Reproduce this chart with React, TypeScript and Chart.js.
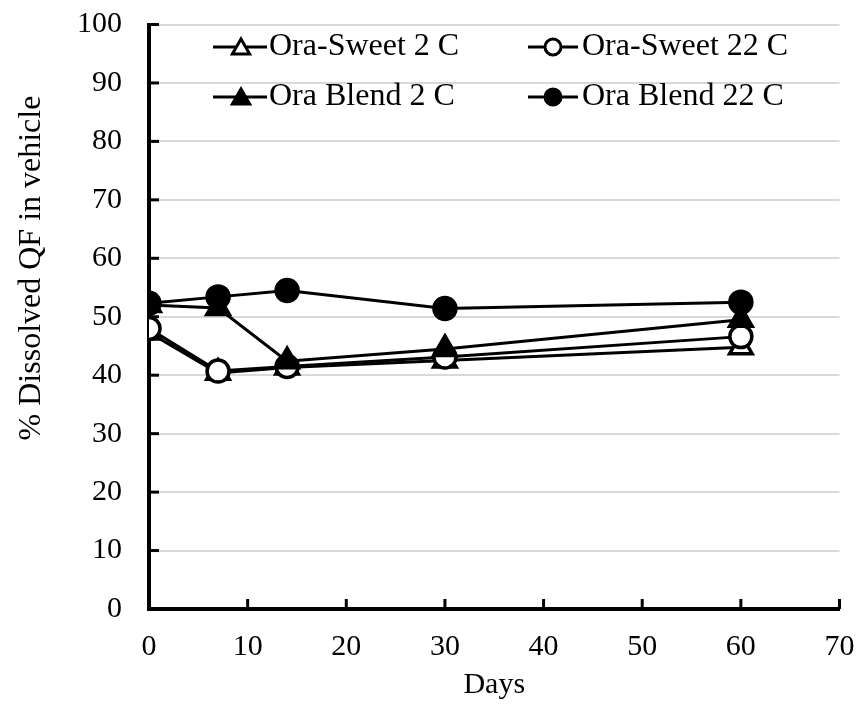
import React, { useEffect, useRef } from "react";
import { Chart, registerables } from "chart.js";

Chart.register(...registerables);

// ---- data ----
const days = [0, 7, 14, 30, 60];
const oraSweet2C = [47.3, 40.4, 41.3, 42.5, 44.8];
const oraSweet22C = [48.0, 40.7, 41.5, 43.1, 46.6];
const oraBlend2C = [52.0, 51.5, 42.4, 44.5, 49.5];
const oraBlend22C = [52.3, 53.4, 54.5, 51.4, 52.5];
const seriesNames = ["Ora-Sweet 2 C", "Ora-Sweet 22 C", "Ora Blend 2 C", "Ora Blend 22 C"];
const xTickValues = [0, 10, 20, 30, 40, 50, 60, 70];
const yTickValues = [0, 10, 20, 30, 40, 50, 60, 70, 80, 90, 100];
const xTitle = "Days";
const yTitle = "% Dissolved QF in vehicle";

const FONT = "'Liberation Serif', 'Times New Roman', serif";

function drawMarker(ctx: CanvasRenderingContext2D, style: string, x: number, y: number, r: number, fill: string) {
  ctx.beginPath();
  if (style === "triangle") {
    let rad = 0;
    ctx.moveTo(x + Math.sin(rad) * r, y - Math.cos(rad) * r);
    rad += (2 * Math.PI) / 3;
    ctx.lineTo(x + Math.sin(rad) * r, y - Math.cos(rad) * r);
    rad += (2 * Math.PI) / 3;
    ctx.lineTo(x + Math.sin(rad) * r, y - Math.cos(rad) * r);
    ctx.closePath();
  } else {
    ctx.arc(x, y, r, 0, Math.PI * 2);
  }
  ctx.fillStyle = fill;
  ctx.fill();
  ctx.lineWidth = 3;
  ctx.strokeStyle = "#000";
  ctx.stroke();
}

export default function App() {
  const ref = useRef<HTMLCanvasElement>(null);

  useEffect(() => {
    if (!ref.current) return;
    const series = [oraSweet2C, oraSweet22C, oraBlend2C, oraBlend22C];
    const styles = [
      { pointStyle: "triangle", fill: "#fff", radius: 13, legendR: 10 },
      { pointStyle: "circle", fill: "#fff", radius: 11, legendR: 8 },
      { pointStyle: "triangle", fill: "#000", radius: 13, legendR: 10 },
      { pointStyle: "circle", fill: "#000", radius: 11, legendR: 8 },
    ];
    const datasets = series.map((vals, i) => ({
      label: seriesNames[i],
      data: days.map((d, j) => ({ x: d, y: vals[j] })),
      borderColor: "#000",
      borderWidth: 3,
      pointStyle: styles[i].pointStyle,
      pointRadius: styles[i].radius,
      pointHoverRadius: styles[i].radius,
      pointBackgroundColor: styles[i].fill,
      pointBorderColor: "#000",
      pointBorderWidth: 3.5,
      fill: false,
      tension: 0,
      order: 3 - i,
    }));

    const legendLayout = [
      { lx1: 205, lx2: 259, mx: 233, tx: 261, y: 39 },
      { lx1: 520, lx2: 570, mx: 545, tx: 574, y: 39 },
      { lx1: 205, lx2: 259, mx: 233, tx: 261, y: 89 },
      { lx1: 520, lx2: 570, mx: 545, tx: 574, y: 89 },
    ];

    const innerTicks = {
      id: "innerTicks",
      beforeDatasetsDraw(chart: any) {
        const { ctx, chartArea, scales } = chart;
        ctx.save();
        ctx.strokeStyle = "#000";
        ctx.lineWidth = 3;
        xTickValues.slice(1).forEach((v) => {
          const px = scales.x.getPixelForValue(v);
          ctx.beginPath();
          ctx.moveTo(px, chartArea.bottom);
          ctx.lineTo(px, chartArea.bottom - 10);
          ctx.stroke();
        });
        yTickValues.slice(1).forEach((v) => {
          const py = scales.y.getPixelForValue(v);
          ctx.beginPath();
          ctx.moveTo(chartArea.left, py);
          ctx.lineTo(chartArea.left + 10, py);
          ctx.stroke();
        });
        ctx.restore();
      },
    };

    const insideLegend = {
      id: "insideLegend",
      afterDraw(chart: any) {
        const { ctx } = chart;
        ctx.save();
        chart.data.datasets.forEach((ds: any, i: number) => {
          const p = legendLayout[i];
          ctx.strokeStyle = "#000";
          ctx.lineWidth = 3;
          ctx.beginPath();
          ctx.moveTo(p.lx1, p.y);
          ctx.lineTo(p.lx2, p.y);
          ctx.stroke();
          drawMarker(ctx, styles[i].pointStyle, p.mx, p.y + (styles[i].pointStyle === "triangle" ? 2 : 0), styles[i].legendR, styles[i].fill);
          ctx.fillStyle = "#000";
          ctx.font = `32px ${FONT}`;
          ctx.textAlign = "left";
          ctx.textBaseline = "middle";
          ctx.fillText(ds.label, p.tx, p.y);
        });
        ctx.restore();
      },
    };

    const yAxisTitle = {
      id: "yAxisTitle",
      afterDraw(chart: any) {
        const { ctx } = chart;
        ctx.save();
        ctx.translate(24, 260);
        ctx.rotate(-Math.PI / 2);
        ctx.fillStyle = "#000";
        ctx.font = `32px ${FONT}`;
        ctx.textAlign = "center";
        ctx.textBaseline = "middle";
        ctx.fillText(yTitle, 0, 0);
        ctx.restore();
      },
    };

    const chart = new Chart(ref.current, {
      type: "line",
      data: { datasets: datasets as any },
      options: {
        animation: false,
        responsive: true,
        maintainAspectRatio: false,
        layout: { padding: { top: 14, right: 11, left: 0, bottom: 0 } },
        plugins: {
          legend: { display: false },
          tooltip: { enabled: false },
        },
        events: [],
        scales: {
          x: {
            type: "linear",
            min: 0,
            max: 70,
            afterBuildTicks: (s: any) => {
              s.ticks = xTickValues.map((v) => ({ value: v }));
            },
            ticks: {
              stepSize: 10,
              color: "#000",
              padding: 0,
              font: { family: FONT, size: 30, lineHeight: 1 },
            },
            grid: {
              display: true,
              drawOnChartArea: false,
              drawTicks: true,
              tickLength: 23,
              tickColor: "rgba(0,0,0,0)",
            },
            border: { display: true, color: "#000", width: 4 },
            title: {
              display: true,
              text: xTitle,
              color: "#000",
              font: { family: FONT, size: 30 },
              padding: { top: 0, bottom: 3 },
            },
            afterFit: (s: any) => {
              s.height = 97;
              s.paddingLeft = 0;
              s.paddingRight = 0;
            },
          },
          y: {
            type: "linear",
            min: 0,
            max: 100,
            afterBuildTicks: (s: any) => {
              s.ticks = yTickValues.map((v) => ({ value: v }));
            },
            ticks: {
              stepSize: 10,
              color: "#000",
              padding: 0,
              font: { family: FONT, size: 30, lineHeight: 1 },
            },
            grid: {
              color: "#d9d9d9",
              lineWidth: 2,
              drawTicks: true,
              tickLength: 27,
              tickColor: "rgba(0,0,0,0)",
            },
            border: { display: true, color: "#000", width: 4 },
            afterFit: (s: any) => {
              s.width = 141;
              s.paddingTop = 0;
              s.paddingBottom = 0;
            },
          },
        },
      },
      plugins: [innerTicks, insideLegend, yAxisTitle],
    } as any);

    return () => chart.destroy();
  }, []);

  return (
    <div style={{ width: 848, height: 698, position: "relative" }}>
      <canvas ref={ref} />
    </div>
  );
}
